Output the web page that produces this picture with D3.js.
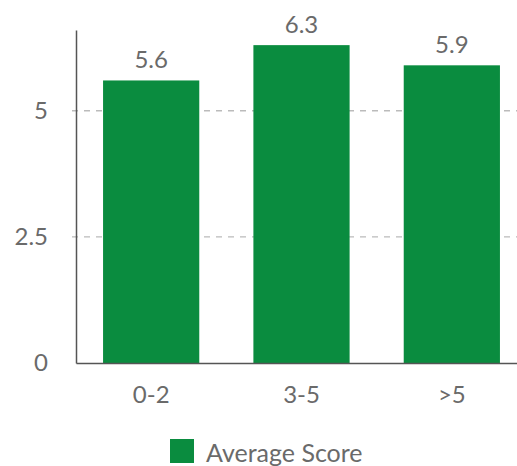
<!DOCTYPE html>
<html><head><meta charset="utf-8">
<script src="https://cdn.jsdelivr.net/npm/d3@7"></script>
<style>
html,body{margin:0;padding:0;background:#fff;}
svg{display:block;font-family:Lato, "Open Sans", sans-serif;}
</style></head>
<body><svg id="c" width="517" height="466"></svg>
<script>
const categories = ["0-2", "3-5", ">5"];
const values = [5.6, 6.3, 5.9];
const yTicks = [0, 2.5, 5];
const seriesName = "Average Score";

(function () {
const svg = d3.select("#c");
const W = 517, H = 466;
const mLeft = 76, mRight = 527, mTop = 30, mBottom = 363;
const green = "#0a8c3f", textCol = "#6a6a6a", axisCol = "#555";

const x = d3.scaleBand().domain(categories).range([mLeft, mRight]).paddingInner(0.36).paddingOuter(0.18);
const y = d3.scaleLinear().domain([0, 6.6]).range([mBottom, mTop]);

// grid
svg.append("g").selectAll("line").data(yTicks.filter(d => d > 0)).join("line")
  .attr("x1", mLeft - 4).attr("x2", W).attr("y1", d => y(d)).attr("y2", d => y(d))
  .attr("stroke", "#bbb").attr("stroke-width", 1.3).attr("stroke-dasharray", "6,6");

// bars
svg.append("g").selectAll("rect").data(values).join("rect")
  .attr("x", (d, i) => x(categories[i])).attr("width", x.bandwidth())
  .attr("y", d => y(d)).attr("height", d => y(0) - y(d)).attr("fill", green);

// value labels
svg.append("g").selectAll("text").data(values).join("text")
  .attr("x", (d, i) => x(categories[i]) + x.bandwidth() / 2).attr("y", d => y(d) - 12)
  .attr("text-anchor", "middle").attr("fill", textCol).attr("font-size", 24)
  .text(d => d.toFixed(1));

// y axis
const yAxis = d3.axisLeft(y).tickValues(yTicks).tickSize(0).tickPadding(28).tickFormat(d => String(d));
const gy = svg.append("g").attr("transform", `translate(${mLeft},0)`).call(yAxis);
gy.select(".domain").attr("stroke", axisCol).attr("stroke-width", 1.5);
gy.selectAll("text").attr("fill", textCol).attr("font-size", 24).attr("font-family", "Lato");

// x axis
const xAxis = d3.axisBottom(x).tickSize(0).tickPadding(23);
const gx = svg.append("g").attr("transform", `translate(0,${mBottom})`).call(xAxis);
gx.select(".domain").attr("stroke", axisCol).attr("stroke-width", 1.5);
gx.selectAll("text").attr("fill", textCol).attr("font-size", 24).attr("font-family", "Lato");

// legend
const lg = svg.append("g");
lg.append("rect").attr("x", 170).attr("y", 439).attr("width", 24).attr("height", 24).attr("fill", green);
lg.append("text").attr("x", 206).attr("y", 462).attr("fill", textCol).attr("font-size", 25).text(seriesName);
})();
</script></body></html>
